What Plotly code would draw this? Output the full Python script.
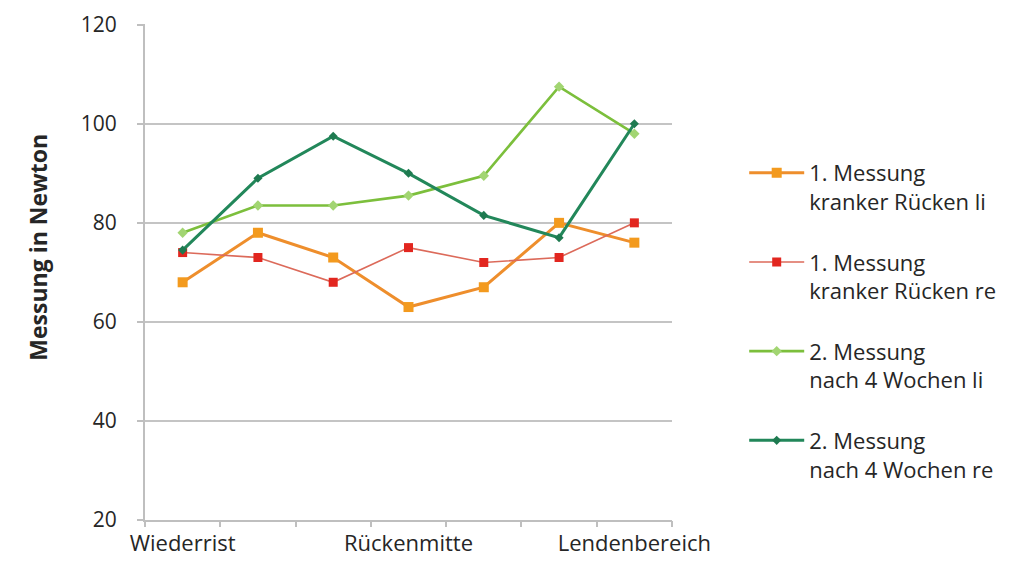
import plotly.graph_objects as go

categories = ["Wiederrist", "", "", "Rückenmitte", "", "", "Lendenbereich"]
x_pos = [0, 1, 2, 3, 4, 5, 6]
label_pos = [0, 3, 6]
label_text = [categories[i] for i in label_pos]
boundary_pos = [-0.5, 0.5, 1.5, 2.5, 3.5, 4.5, 5.5, 6.5]

s1_name = "1. Messung<br>kranker Rücken li"
s1 = [68, 78, 73, 63, 67, 80, 76]
s2_name = "1. Messung<br>kranker Rücken re"
s2 = [74, 73, 68, 75, 72, 73, 80]
s3_name = "2. Messung<br>nach 4 Wochen li"
s3 = [78, 83.5, 83.5, 85.5, 89.5, 107.5, 98]
s4_name = "2. Messung<br>nach 4 Wochen re"
s4 = [74.5, 89, 97.5, 90, 81.5, 77, 100]

yticks = [20, 40, 60, 80, 100, 120]
y_title = "Messung in Newton"

FONT = "Open Sans, sans-serif"
TXT = "#262626"
FS = 22

fig = go.Figure()
styles = [
    (s1_name, s1, "#EE8E2C", 3, "#F39A1E", "square", 10),
    (s2_name, s2, "#DC6A5A", 1.6, "#E2261F", "square", 9),
    (s3_name, s3, "#7CBF3C", 2.6, "#A2D572", "diamond", 8),
    (s4_name, s4, "#22875A", 3, "#1E7A50", "diamond", 7),
]
for i, (name, vals, lc, lw, mc, sym, ms) in enumerate(styles):
    fig.add_trace(go.Scatter(
        x=x_pos, y=vals, name=name, mode="lines+markers",
        line=dict(color=lc, width=lw),
        marker=dict(color=mc, symbol=sym, size=ms),
        legendgroup=f"g{i}",
    ))

# invisible trace to activate tick-only overlay axis
fig.add_trace(go.Scatter(x=[boundary_pos[0], boundary_pos[-1]], y=[20, 20],
                         xaxis="x2", mode="markers", marker=dict(opacity=0),
                         showlegend=False, hoverinfo="skip"))

fig.update_layout(
    width=1033, height=566,
    margin=dict(l=137, r=369, t=16, b=54),
    paper_bgcolor="white", plot_bgcolor="white",
    font=dict(family=FONT, size=FS, color=TXT),
    showlegend=True,
    legend=dict(x=1.137, xanchor="left", xref="paper", y=0.742, yanchor="top",
                font=dict(family=FONT, size=FS, color=TXT),
                tracegroupgap=29, itemwidth=55, traceorder="grouped",
                valign="top", bgcolor="rgba(0,0,0,0)"),
    xaxis=dict(range=[-0.5, 6.5], tickmode="array", tickvals=label_pos,
               ticktext=label_text, ticks="", showgrid=False,
               showline=True, linecolor="#BFBFBF", linewidth=2,
               tickfont=dict(family=FONT, size=FS, color=TXT),
               zeroline=False, ticklabelstandoff=3, automargin=False),
    xaxis2=dict(range=[-0.5, 6.5], overlaying="x", side="bottom",
                tickmode="array", tickvals=boundary_pos,
                ticktext=[""] * len(boundary_pos), ticks="outside",
                ticklen=6, tickwidth=1.5, tickcolor="#BFBFBF",
                showgrid=False, showline=False, zeroline=False,
                automargin=False),
    yaxis=dict(range=[20, 120.15], tickmode="array", tickvals=yticks,
               ticks="outside", ticklen=6, tickwidth=1.5, tickcolor="#BFBFBF",
               showgrid=True, gridcolor="#C4C4C4", gridwidth=2,
               showline=True, linecolor="#BFBFBF", linewidth=2,
               zeroline=False, automargin=False, ticklabelstandoff=16,
               ticklabeloverflow="allow",
               tickfont=dict(family=FONT, size=21, color=TXT)),
    annotations=[dict(text=f"<b>{y_title}</b>", textangle=-90,
                      xref="paper", yref="paper", x=-0.203, y=0.549,
                      xanchor="center", yanchor="middle", showarrow=False,
                      font=dict(family=FONT, size=23, color=TXT))],
)

fig.write_html("out.html")
